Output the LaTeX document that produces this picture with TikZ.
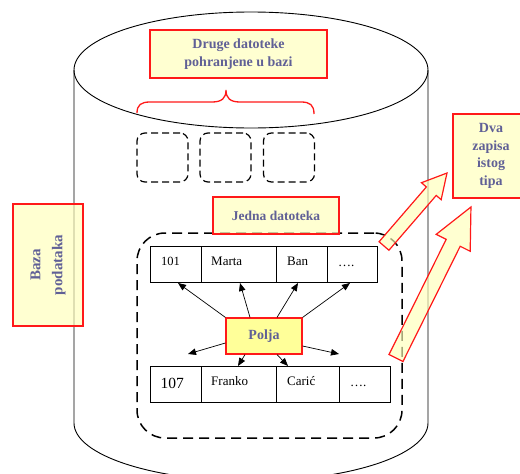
\documentclass[tikz,border=0pt]{standalone}
\usepackage{fontspec}
\setmainfont{Liberation Serif}
\usetikzlibrary{arrows.meta,calc}

\definecolor{labeltext}{RGB}{96,96,150}
\definecolor{notefill}{RGB}{255,255,185}
\definecolor{notered}{RGB}{255,25,25}
\definecolor{fieldfill}{RGB}{255,255,153}

\begin{document}
\begin{tikzpicture}[x=1pt,y=-1pt,
  note/.style={draw=notered,line width=1.2pt,fill=notefill,fill opacity=0.65,
    text opacity=1,text=labeltext,font=\fontsize{14}{17.5}\selectfont\bfseries,
    align=center,inner sep=0pt},
  cell/.style={draw,line width=0.8pt,minimum height=36pt,inner sep=0pt},
  celltext/.style={anchor=base west,inner sep=0pt,font=\fontsize{13}{15}\selectfont},
  smallfile/.style={draw,dash pattern=on 7pt off 4pt,line width=1.2pt,
    rounded corners=8pt,minimum width=51pt,minimum height=49pt,inner sep=0pt},
  onefile/.style={draw,dash pattern=on 10pt off 6pt,line width=1.5pt,
    rounded corners=28pt,inner sep=0pt},
  fieldarrow/.style={-{Triangle[length=8pt,width=6.5pt]},line width=0.7pt},
  blockarrow/.style={draw=notered,line width=1.2pt,fill=notefill,
    fill opacity=0.65,line join=miter}
]
\useasboundingbox (0,0) rectangle (520,474);
\clip (0,0) rectangle (520,474);

% database cylinder
\draw[line width=0.9pt] (251,70) ellipse [x radius=177pt, y radius=58pt];
\draw[line width=0.9pt] (74,70) -- (74,423)
  arc[start angle=180, end angle=360, x radius=177pt, y radius=58pt] -- (428,70);

% other files stored in the database
\node[smallfile] (f1) at (162.5,157.5) {};
\node[smallfile] (f2) at (225.5,157.5) {};
\node[smallfile] (f3) at (289,157.5) {};

% brace over the other files
\draw[notered,line width=1.3pt] (137,113)
  .. controls (137,105) and (141,102) .. (150,102) -- (212,102)
  .. controls (222,102) and (226,98) .. (226,90)
  .. controls (226,98) and (230,102) .. (240,102) -- (301,102)
  .. controls (310,102) and (314,105) .. (314,114);

% one file
\node[onefile,minimum width=265pt,minimum height=205pt] (file) at (269.5,335.5) {};

% first record
\node[cell,minimum width=51pt] (r1a) at (175.5,264) {};
\node[cell,minimum width=75pt] (r1b) at (238.5,264) {};
\node[cell,minimum width=51pt] (r1c) at (301.5,264) {};
\node[cell,minimum width=50pt] (r1d) at (352,264) {};
\node[celltext,font=\fontsize{12.5}{14}\selectfont] (v1a) at (161,265.5) {101};
\node[celltext] (v1b) at (211,265.5) {Marta};
\node[celltext] (v1c) at (287,265.5) {Ban};
\node[celltext] (v1d) at (338,266) {….};

% second record
\node[cell,minimum width=51pt] (r2a) at (175.5,384) {};
\node[cell,minimum width=75pt] (r2b) at (238.5,384) {};
\node[cell,minimum width=63pt] (r2c) at (307.5,384) {};
\node[cell,minimum width=51pt] (r2d) at (364.5,384) {};
\node[celltext,font=\fontsize{15.5}{17}\selectfont] (v2a) at (160.5,388) {107};
\node[celltext] (v2b) at (211,385) {Franko};
\node[celltext] (v2c) at (287,385) {Carić};
\node[celltext] (v2d) at (350,386) {….};

% fields
\node[draw=notered,line width=1.2pt,fill=fieldfill,text=labeltext,
  font=\fontsize{14}{17}\selectfont\bfseries,minimum width=76pt,minimum height=36pt,
  inner sep=0pt] (polja) at (264,336) {Polja};

\coordinate (t1) at (178,283);
\coordinate (t2) at (240,283);
\coordinate (t3) at (298,283);
\coordinate (t4) at (350,283);
\coordinate (b1) at (188,354);
\coordinate (b2) at (238,366);
\coordinate (b3) at (288,366);
\coordinate (b4) at (339,354);

\draw[fieldarrow] (polja.north west) -- (t1);
\draw[fieldarrow] ($(polja.north)+(-14,0)$) -- (t2);
\draw[fieldarrow] ($(polja.north)+(13,0)$) -- (t3);
\draw[fieldarrow] (polja.north east) -- (t4);
\draw[fieldarrow] ($(polja.west)+(0,7)$) -- (b1);
\draw[fieldarrow] ($(polja.south)+(-19,0)$) -- (b2);
\draw[fieldarrow] ($(polja.south)+(13,0)$) -- (b3);
\draw[fieldarrow] ($(polja.east)+(0,10)$) -- (b4);

% block arrows towards the two records note
\begin{scope}[shift={(384,246)},rotate=49.2]
  \draw[blockarrow] (0,-6.5) -- (72.4,-6.5) -- (72.4,-13) -- (96.4,0)
    -- (72.4,13) -- (72.4,6.5) -- (0,6.5) -- cycle;
\end{scope}
\begin{scope}[shift={(396,358)},rotate=63.6]
  \draw[blockarrow] (0,-7.8) -- (128.6,-7.8) -- (128.6,-19) -- (168.6,0)
    -- (128.6,19) -- (128.6,7.8) -- (0,7.8) -- cycle;
\end{scope}

% notes
\node[note,minimum width=177pt,minimum height=48pt] (druge) at (238.5,54)
  {Druge datoteke\\pohranjene u bazi};
\node[note,font=\fontsize{13.5}{16}\selectfont\bfseries,minimum width=126pt,
  minimum height=37pt] (jedna) at (276,215.5) {Jedna datoteka};
\node[note,minimum width=76pt,minimum height=84pt] (dva) at (491,156)
  {Dva\\zapisa\\istog\\tipa};
\node[note,font=\fontsize{15}{22}\selectfont\bfseries,rotate=90,
  minimum width=122pt,minimum height=70pt] (baza) at (48,265) {Baza\\podataka};
\end{tikzpicture}
\end{document}
